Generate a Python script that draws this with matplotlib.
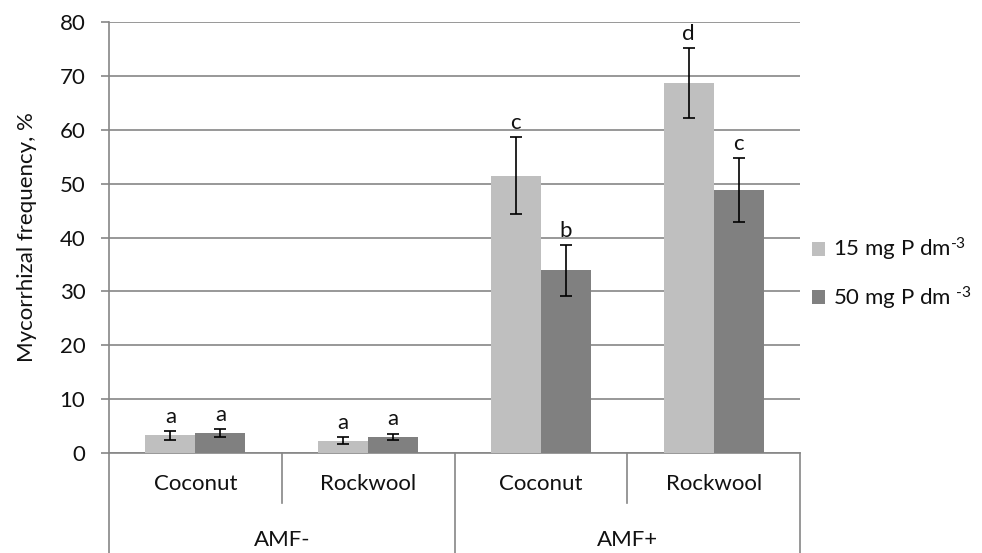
import matplotlib
matplotlib.use("Agg")
import matplotlib.pyplot as plt
import matplotlib.transforms as mtransforms
from matplotlib.patches import Patch
import numpy as np

plt.rcParams['font.family'] = ['Lato', 'DejaVu Sans']
plt.rcParams['mathtext.fontset'] = 'custom'
plt.rcParams['mathtext.rm'] = 'Lato'
plt.rcParams['mathtext.it'] = 'Lato:italic'

substrates = ["Coconut", "Rockwool", "Coconut", "Rockwool"]
groups = ["AMF-", "AMF+"]
series_names = [r"15 mg P dm$^{\text{-3}}$", r"50 mg P dm $^{\text{-3}}$"]
vals_15 = [3.3, 2.3, 51.5, 68.6]
vals_50 = [3.7, 3.0, 33.9, 48.8]
err_15 = [0.8, 0.6, 7.1, 6.5]
err_50 = [0.8, 0.6, 4.7, 6.0]
letters_15 = ["a", "a", "c", "d"]
letters_50 = ["a", "a", "b", "c"]
yticks = [0, 10, 20, 30, 40, 50, 60, 70, 80]

c_light = "#BFBFBF"
c_dark = "#808080"
gcol = "#868686"
tcol = "#111111"
fs = 16

fig = plt.figure(figsize=(9.82, 5.53), dpi=100)
ax = fig.add_axes([109/982, 100/553, 691/982, 431/553])

x = np.arange(len(substrates))
w = 0.289
ax.bar(x - w/2, vals_15, w, color=c_light, zorder=3)
ax.bar(x + w/2, vals_50, w, color=c_dark, zorder=3)
ek = dict(fmt='none', ecolor='black', elinewidth=1.2, capsize=4.3, capthick=1.2, zorder=4)
ax.errorbar(x - w/2, vals_15, yerr=err_15, **ek)
ax.errorbar(x + w/2, vals_50, yerr=err_50, **ek)
for xi, v, e, l in zip(x - w/2, vals_15, err_15, letters_15):
    ax.annotate(l, (xi, v + e), xytext=(0, 3), textcoords='offset points',
                ha='center', va='bottom', fontsize=fs, color=tcol)
for xi, v, e, l in zip(x + w/2, vals_50, err_50, letters_50):
    ax.annotate(l, (xi, v + e), xytext=(0, 3), textcoords='offset points',
                ha='center', va='bottom', fontsize=fs, color=tcol)

ax.set_xlim(-0.5, len(substrates) - 0.5)
ax.set_ylim(0, 80)
ax.set_yticks(yticks)
ax.yaxis.grid(True, color=gcol, linewidth=1.2, zorder=0)
ax.set_axisbelow(True)
for s in ['top', 'right']:
    ax.spines[s].set_visible(False)
ax.spines['left'].set_color(gcol)
ax.spines['bottom'].set_color(gcol)
ax.spines['left'].set_linewidth(1.2)
ax.spines['bottom'].set_linewidth(1.2)
ax.tick_params(axis='y', colors=gcol, length=6, width=1.2, labelcolor=tcol, labelsize=fs, pad=11)
ax.set_xticks([])
ax.set_ylabel("Mycorrhizal frequency, %", fontsize=fs, color=tcol)
ax.yaxis.set_label_coords(-72/691, 0.5)

# multi-level category axis
tr = mtransforms.blended_transform_factory(ax.transData, ax.transAxes)
lvl1 = -50/431
lvl2 = -101/431
for b in [-0.5, 0.5, 1.5, 2.5, 3.5]:
    bottom = lvl2 if b in (-0.5, 1.5, 3.5) else lvl1
    ax.plot([b, b], [0, bottom], transform=tr, color=gcol, lw=1.2, clip_on=False)
for xi, s in zip(x, substrates):
    ax.text(xi, -31/431, s, transform=tr, ha='center', va='center', fontsize=fs, color=tcol)
for gi, g in enumerate(groups):
    ax.text(2*gi + 0.5, -87/431, g, transform=tr, ha='center', va='center', fontsize=fs, color=tcol)

handles = [Patch(facecolor=c_light), Patch(facecolor=c_dark)]
fig.legend(handles, series_names, loc='center left', bbox_to_anchor=(792/982, 1 - 274/553),
           frameon=False, fontsize=fs, handlelength=0.6, handleheight=0.6,
           handletextpad=0.35, labelspacing=0.95, labelcolor=tcol)

fig.savefig("out.png", dpi=100)
